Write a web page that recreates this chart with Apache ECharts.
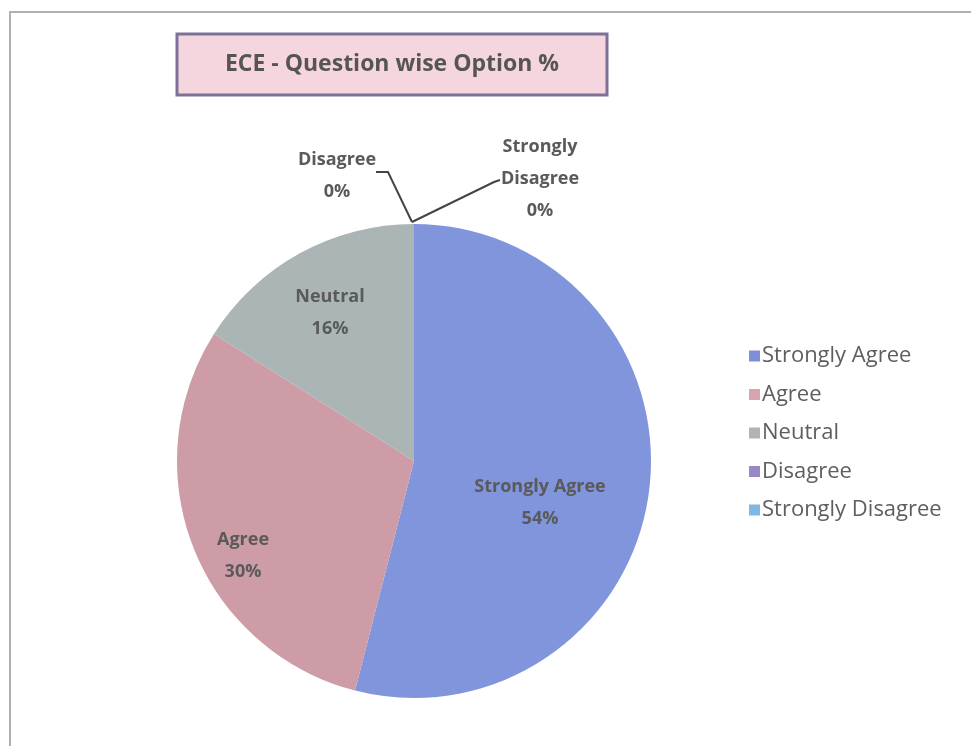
<!DOCTYPE html>
<html>
<head>
<meta charset="utf-8">
<title>ECE - Question wise Option %</title>
<script src="https://cdn.jsdelivr.net/npm/echarts@6/dist/echarts.min.js"></script>
<style>
  html, body { margin: 0; padding: 0; background: #fff; }
  #chart { width: 971px; height: 746px; }
</style>
</head>
<body>
<div id="chart"></div>
<script>
var myChart = echarts.init(document.getElementById('chart'));

// data
var categories = ['Strongly Agree', 'Agree', 'Neutral', 'Disagree', 'Strongly Disagree'];
var percents = [54, 30, 16, 0, 0];
var colors = ['#8095dc', '#cd9ca7', '#abb5b6', '#9a88c9', '#80b6e0'];
var legendColors = ['#7d8fd6', '#d7a4b0', '#b3b3b3', '#9b86c6', '#7fb8e2'];

var labelFont = {
    fontFamily: 'Open Sans',
    fontWeight: 'bold',
    fontSize: 18,
    lineHeight: 32,
    color: '#5a5a5a'
};

// where Excel put the inside labels (offset from the pie's center)
var insideShift = [[126, 42], [-171, 95], [-84, -148]];

option = {
    backgroundColor: '#ffffff',
    graphic: [
        {   // outer frame of the chart area
            type: 'rect',
            shape: { x: 10, y: 12, width: 1000, height: 800 },
            style: { fill: 'none', stroke: '#b0b0b0', lineWidth: 2 },
            z: -10
        },
        {   // title box
            type: 'rect',
            shape: { x: 177, y: 34, width: 430, height: 61 },
            style: { fill: '#f6d6de', stroke: '#7c7199', lineWidth: 3 },
            z: 0
        },
        {
            type: 'text',
            x: 392,
            y: 64,
            style: {
                text: 'ECE - Question wise Option %',
                fill: '#555555',
                font: 'bold 23px "Open Sans"',
                align: 'center',
                verticalAlign: 'middle'
            },
            z: 1
        }
    ],
    legend: {
        orient: 'vertical',
        left: 744,
        top: 339,
        itemWidth: 11,
        itemHeight: 11,
        itemGap: 14.5,
        icon: 'rect',
        textStyle: {
            color: '#5e5e5e',
            fontFamily: 'Open Sans',
            fontSize: 22,
            lineHeight: 24,
            padding: [0, 0, 0, -3]
        },
        data: categories.map(function (c, i) {
            return { name: c, itemStyle: { color: legendColors[i] } };
        })
    },
    series: [{
        type: 'pie',
        center: [414, 461],
        radius: 237,
        startAngle: 90,
        clockwise: true,
        avoidLabelOverlap: false,
        minShowLabelAngle: -1,
        animation: false,
        label: Object.assign({
            show: true,
            formatter: function (p) {
                var name = p.dataIndex === 4 ? p.name.replace(' ', '\n') : p.name;
                return name + '\n' + p.value + '%';
            }
        }, labelFont),
        labelLine: {
            show: true,
            lineStyle: { color: '#444444', width: 2 }
        },
        labelLayout: function (params) {
            var i = params.dataIndex;
            if (i < 3) {
                var c = [414, 461];
                return {
                    x: c[0] + insideShift[i][0],
                    y: c[1] + insideShift[i][1],
                    align: 'center',
                    verticalAlign: 'middle'
                };
            }
            var a = params.labelLinePoints ? params.labelLinePoints[0] : [412, 224];
            if (i === 3) {
                return {
                    x: a[0] - 77,
                    y: a[1] - 48,
                    align: 'center',
                    verticalAlign: 'middle',
                    labelLinePoints: [[a[0] - 2, a[1] - 2], [a[0] - 26, a[1] - 52], [a[0] - 38, a[1] - 52]]
                };
            }
            return {
                x: a[0] + 126,
                y: a[1] - 45,
                align: 'center',
                verticalAlign: 'middle',
                labelLinePoints: [[a[0] - 2, a[1] - 2], [a[0] + 80, a[1] - 42], [a[0] + 86, a[1] - 44]]
            };
        },
        data: categories.map(function (c, i) {
            return {
                name: c,
                value: percents[i],
                itemStyle: { color: colors[i] },
                label: { position: i < 3 ? 'inside' : 'outside' },
                labelLine: { show: i >= 3 }
            };
        })
    }]
};

myChart.setOption(option);
</script>
</body>
</html>
